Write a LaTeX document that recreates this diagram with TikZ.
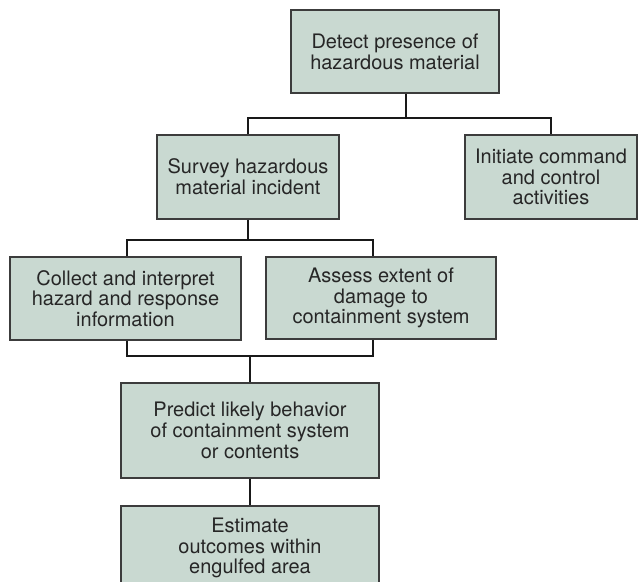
\documentclass[tikz,border=0pt]{standalone}
\usepackage{fontspec}
\setmainfont{TeX Gyre Heros}
\definecolor{boxfill}{RGB}{201,217,209}
\definecolor{boxline}{RGB}{60,60,60}

\begin{document}
\begin{tikzpicture}[x=0.025cm,y=-0.025cm]
        \tikzstyle{task}=[rectangle, draw=boxline, line width=0.9pt, fill=boxfill, inner sep=0pt, align=center, text=black!85, font=\fontsize{14.2}{14.8}\selectfont]
        \tikzstyle{link}=[draw=black!90, line width=1.8pt]

            \useasboundingbox (0,0) rectangle (639,581);

            \node[task, minimum width=5.2cm, minimum height=2.075cm](1) at (395,51.5){Detect presence of\\hazardous material};
            \node[task, minimum width=4.55cm, minimum height=2.1cm](2) at (248,177){Survey hazardous\\material incident};
            \node[task, minimum width=4.3cm, minimum height=2.1cm](3) at (551,177){Initiate command\\and control\\activities};
            \node[task, minimum width=5.775cm, minimum height=2.075cm](4) at (125.5,298.5){Collect and interpret\\hazard and response\\information};
            \node[task, minimum width=5.75cm, minimum height=2.05cm](5) at (381,298){Assess extent of\\damage to\\containment system};
            \node[task, minimum width=6.45cm, minimum height=2.375cm](6) at (250,430.5){Predict likely behavior\\of containment system\\or contents};
            \node[task, minimum width=6.45cm, minimum height=2.1cm](7) at (250,548){Estimate\\outcomes within\\engulfed area};

            % branch points
            \coordinate (a) at (406,118);
            \coordinate (b) at (127,240);
            \coordinate (c) at (373,240);
            \coordinate (d) at (127,356);
            \coordinate (e) at (373,356);

            \draw[link] (1.south -| a) -- (a);
            \draw[link] (2.north) |- (a) -| (3.north);

            \draw[link] (2.south) -- (2.south |- b);
            \draw[link] (4.north -| b) -- (b) -- (c) -- (5.north -| c);

            \draw[link] (4.south -| d) -- (d) -- (e) -- (5.south -| e);

            \foreach \from/\to in {6/7}
            \draw[link] (\from) -- (\to);
            \draw[link] (6.north) -- (6.north |- d);

        \end{tikzpicture}
\end{document}
